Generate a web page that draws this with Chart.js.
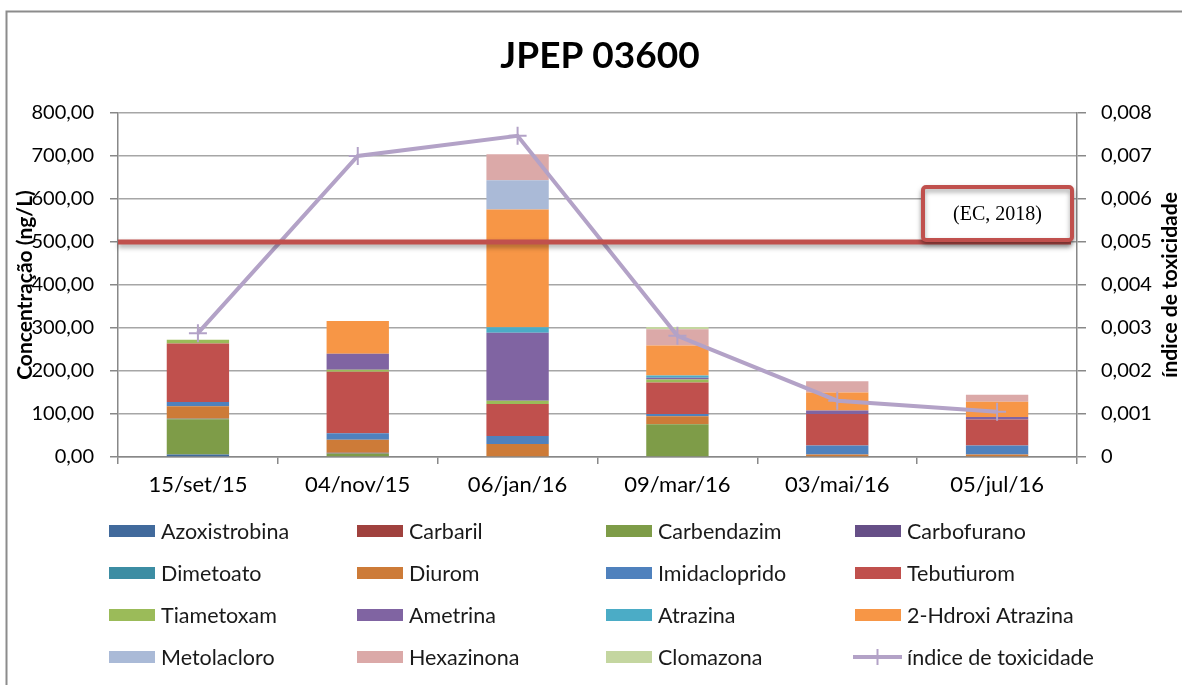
<!DOCTYPE html>
<html lang="pt">
<head>
<meta charset="utf-8">
<title>JPEP 03600</title>
<script src="https://cdn.jsdelivr.net/npm/chart.js@4.4.0/dist/chart.umd.min.js"></script>
<style>
  html, body { margin: 0; padding: 0; background: #ffffff; }
  #wrap { width: 1182px; height: 685px; position: relative; }
</style>
</head>
<body>
<div id="wrap"><canvas id="chart" width="1182" height="685"></canvas></div>
<script>
// Sampling dates
const categories = ['15/set/15', '04/nov/15', '06/jan/16', '09/mar/16', '03/mai/16', '05/jul/16'];

// Concentrations (ng/L) per compound
const azoxistrobina   = [6, 0, 0, 0, 0, 0];
const carbaril        = [0, 0, 0, 0, 0, 0];
const carbendazim     = [82, 8, 2, 76, 0, 0];
const carbofurano     = [0, 2, 0, 0, 0, 0];
const dimetoato       = [1, 0, 0, 0, 0, 0];
const diurom          = [29, 30, 28, 19, 6, 6];
const imidacloprido   = [10, 15, 19, 5, 21, 21];
const tebutiurom      = [136, 143, 74, 73, 73, 60.5];
const tiametoxam      = [8.5, 5, 8, 7.5, 0, 0];
const ametrina        = [0, 37, 158, 4, 8, 5.5];
const atrazina        = [0, 0, 12.5, 5, 0, 0];
const hidroxiAtrazina = [0, 76, 274, 70, 42, 35.5];
const metolacloro     = [0, 0, 68, 0, 0, 0];
const hexazinona      = [0, 0, 60.5, 37.5, 26, 16.5];
const clomazona       = [0, 0, 0, 5.5, 0, 0];

// Toxicity index (right axis)
const indiceToxicidade = [0.00288, 0.0070, 0.00747, 0.00282, 0.00131, 0.00105];

// Reference limit (ng/L)
const limiteEC = 500;

const leftTicks = { min: 0, max: 800, step: 100 };
const rightTicks = { min: 0, max: 0.008, step: 0.001 };

const compounds = [
  ['Azoxistrobina', azoxistrobina, '#416A9C'],
  ['Carbaril', carbaril, '#A0413E'],
  ['Carbendazim', carbendazim, '#7E9C48'],
  ['Carbofurano', carbofurano, '#664F87'],
  ['Dimetoato', dimetoato, '#3C8DA3'],
  ['Diurom', diurom, '#CD7B38'],
  ['Imidacloprido', imidacloprido, '#4F81BD'],
  ['Tebutiurom', tebutiurom, '#C0504D'],
  ['Tiametoxam', tiametoxam, '#9BBB59'],
  ['Ametrina', ametrina, '#8064A2'],
  ['Atrazina', atrazina, '#4BACC6'],
  ['2-Hdroxi Atrazina', hidroxiAtrazina, '#F79646'],
  ['Metolacloro', metolacloro, '#AABAD7'],
  ['Hexazinona', hexazinona, '#DBA9A8'],
  ['Clomazona', clomazona, '#C4D6A0']
];

const LINE_COLOR = '#B3A2C7';
const FONT = 'Lato, "Open Sans", "DejaVu Sans", sans-serif';

const datasets = compounds.map(([label, data, color]) => ({
  type: 'bar',
  label,
  data,
  backgroundColor: color,
  borderWidth: 0,
  yAxisID: 'y',
  stack: 'conc',
  order: 1,
  barPercentage: 0.39,
  categoryPercentage: 1.0
}));

datasets.push({
  type: 'line',
  label: 'índice de toxicidade',
  data: indiceToxicidade,
  yAxisID: 'y1',
  borderColor: LINE_COLOR,
  borderWidth: 4,
  pointStyle: 'cross',
  pointRadius: 9,
  pointBorderWidth: 2,
  pointBorderColor: LINE_COLOR,
  pointBackgroundColor: LINE_COLOR,
  tension: 0,
  fill: false,
  order: 0
});

function fmtComma(v, digits) {
  return v.toFixed(digits).replace('.', ',');
}

// Reference line at the EC limit, with its label box
const limitPlugin = {
  id: 'limitLine',
  afterDatasetsDraw(chart) {
    const { ctx, chartArea, scales } = chart;
    const y = scales.y.getPixelForValue(limiteEC);
    ctx.save();
    ctx.shadowColor = 'rgba(0,0,0,0.35)';
    ctx.shadowBlur = 5;
    ctx.shadowOffsetY = 3;
    ctx.strokeStyle = '#C0504D';
    ctx.lineWidth = 5;
    ctx.beginPath();
    ctx.moveTo(chartArea.left, y);
    ctx.lineTo(chartArea.right - 6, y);
    ctx.stroke();

    // label box
    const bx = 923, by = y - 55, bw = 149, bh = 53;
    ctx.fillStyle = '#ffffff';
    ctx.lineWidth = 4;
    ctx.beginPath();
    ctx.roundRect(bx, by, bw, bh, 3);
    ctx.fill();
    ctx.stroke();
    ctx.restore();

    ctx.save();
    ctx.fillStyle = '#000000';
    ctx.font = '20px "Liberation Serif", "DejaVu Serif", serif';
    ctx.textAlign = 'center';
    ctx.textBaseline = 'middle';
    ctx.fillText('(EC, 2018)', bx + bw / 2, by + bh / 2 + 1);
    ctx.restore();
  }
};

// Title, axis titles, grid legend and outer frame
const decorPlugin = {
  id: 'decor',
  afterDraw(chart) {
    const { ctx, chartArea } = chart;
    ctx.save();

    // frame
    ctx.strokeStyle = '#8C8C8C';
    ctx.lineWidth = 2;
    ctx.beginPath();
    ctx.moveTo(6.5, 685);
    ctx.lineTo(6.5, 11.5);
    ctx.lineTo(1182, 11.5);
    ctx.stroke();

    // title
    ctx.fillStyle = '#000000';
    ctx.font = 'bold 37px ' + FONT;
    ctx.textAlign = 'center';
    ctx.textBaseline = 'middle';
    ctx.fillText('JPEP 03600', 600, 56);

    // axis titles
    const midY = (chartArea.top + chartArea.bottom) / 2;
    ctx.font = 'bold 21px ' + FONT;
    ctx.save();
    ctx.translate(25, midY);
    ctx.rotate(-Math.PI / 2);
    ctx.fillText('Concentração (ng/L)', 0, 0);
    ctx.restore();
    ctx.save();
    ctx.translate(1170, midY);
    ctx.rotate(-Math.PI / 2);
    ctx.fillText('índice de toxicidade', 0, 0);
    ctx.restore();

    // legend in a 4-column grid
    const colX = [109, 357, 606, 855];
    const rowY = [531, 573, 615, 657];
    ctx.font = '21.5px ' + FONT;
    ctx.textAlign = 'left';
    ctx.textBaseline = 'middle';
    chart.data.datasets.forEach((ds, i) => {
      const x = colX[i % 4];
      const y = rowY[Math.floor(i / 4)];
      if (ds.type === 'line') {
        ctx.strokeStyle = ds.borderColor;
        ctx.lineWidth = 4;
        ctx.beginPath();
        ctx.moveTo(x - 2, y);
        ctx.lineTo(x + 47, y);
        ctx.stroke();
        ctx.lineWidth = 2;
        ctx.beginPath();
        ctx.moveTo(x + 22.5, y - 8);
        ctx.lineTo(x + 22.5, y + 8);
        ctx.stroke();
      } else {
        ctx.fillStyle = ds.backgroundColor;
        ctx.fillRect(x, y - 6, 46, 12);
      }
      ctx.fillStyle = '#1a1a1a';
      ctx.fillText(ds.label, x + 52, y + 1);
    });
    ctx.restore();
  }
};

new Chart(document.getElementById('chart'), {
  data: { labels: categories, datasets },
  options: {
    responsive: false,
    animation: false,
    layout: { padding: { top: 113, left: 0, right: 0, bottom: 0 } },
    plugins: {
      legend: { display: false },
      title: { display: false },
      tooltip: { enabled: false }
    },
    scales: {
      x: {
        stacked: true,
        offset: true,
        grid: {
          offset: true,
          drawOnChartArea: false,
          drawTicks: true,
          tickLength: 7,
          color: '#888888',
          lineWidth: 1.5
        },
        border: { display: true, color: '#888888', width: 1.5 },
        ticks: {
          color: '#000000',
          font: { family: FONT, size: 22 },
          padding: 8,
          maxRotation: 0
        },
        afterFit(scale) { scale.height = 685 - 457; }
      },
      y: {
        position: 'left',
        stacked: true,
        min: leftTicks.min,
        max: leftTicks.max,
        grid: {
          color: '#A6A6A6',
          lineWidth: 1.5,
          tickLength: 8,
          tickColor: '#888888'
        },
        border: { display: true, color: '#888888', width: 1.5 },
        ticks: {
          stepSize: leftTicks.step,
          color: '#000000',
          font: { family: FONT, size: 20 },
          padding: 16,
          callback: (v) => fmtComma(v, 2)
        },
        afterFit(scale) { scale.width = 118; }
      },
      y1: {
        position: 'right',
        min: rightTicks.min,
        max: rightTicks.max,
        grid: {
          drawOnChartArea: false,
          tickLength: 9,
          color: '#888888',
          lineWidth: 1.5
        },
        border: { display: true, color: '#888888', width: 1.5 },
        ticks: {
          stepSize: rightTicks.step,
          color: '#000000',
          font: { family: FONT, size: 20 },
          padding: 15,
          callback: (v) => (Math.abs(v) < 1e-12 ? '0' : fmtComma(v, 3))
        },
        afterFit(scale) { scale.width = 1182 - 1077; }
      }
    }
  },
  plugins: [limitPlugin, decorPlugin]
});
</script>
</body>
</html>
